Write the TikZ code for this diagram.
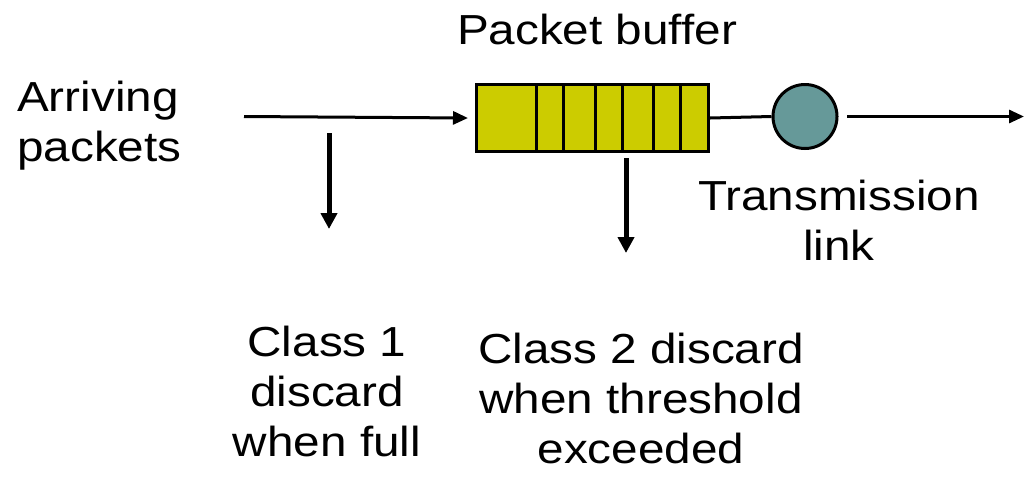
\documentclass[tikz,border=0pt]{standalone}
\usepackage{fontspec}
\setmainfont{Liberation Sans}[FakeStretch=1.135]
\usetikzlibrary{arrows.meta}
\definecolor{bufcol}{HTML}{CCCC00}
\definecolor{linkcol}{HTML}{669999}
\tikzset{
  lbl/.style={font=\fontsize{42}{50}\selectfont, align=center, inner sep=0pt},
  conn/.style={line width=3pt, -{Triangle[length=15pt,width=13pt]}},
  drop/.style={line width=5pt, -{Triangle[length=16pt,width=16pt]}},
  plain/.style={line width=3pt},
  slot/.style={line width=3pt}
}
\begin{document}
\begin{tikzpicture}[x=1pt,y=-1pt]
\useasboundingbox (0,0) rectangle (1024,483);
% texts
\node[lbl, anchor=base] (title) at (597,44) {Packet buffer};
\node[lbl, align=left, anchor=west] (arr) at (17,126) {Arriving\\packets};
\node[lbl] (tx) at (839,220) {Transmission\\link};
\node[lbl] (c1) at (327,391) {Class 1\\discard\\when full};
\node[lbl] (c2) at (641,398) {Class 2 discard\\when threshold\\exceeded};
% buffer
\node[draw, fill=bufcol, line width=3pt, minimum width=232pt, minimum height=67pt, inner sep=0pt, anchor=north west] (buf) at (475,83) {};
\foreach \x in {536,563,595,622,653,680}
  \draw[slot] (\x,83) -- (\x,150);
% link
\node[circle, draw, fill=linkcol, line width=3pt, minimum size=64pt, inner sep=0pt] (lk) at (805,116.5) {};
% coordinates
\coordinate (in) at (244,116.5);
\coordinate (out) at (1024,116.5);
\coordinate (outs) at (847,116.5);
\coordinate (d1s) at (329,133);
\coordinate (d1e) at (329,229);
\coordinate (d2s) at (626,158);
\coordinate (d2e) at (626,253);
% connectors
\draw[conn] (in) -- ([xshift=-7pt]buf.west);
\draw[plain] (buf.east) -- (lk.west);
\draw[conn] (outs) -- (out);
\draw[drop] (d1s) -- (d1e);
\draw[drop] (d2s) -- (d2e);
\end{tikzpicture}
\end{document}
